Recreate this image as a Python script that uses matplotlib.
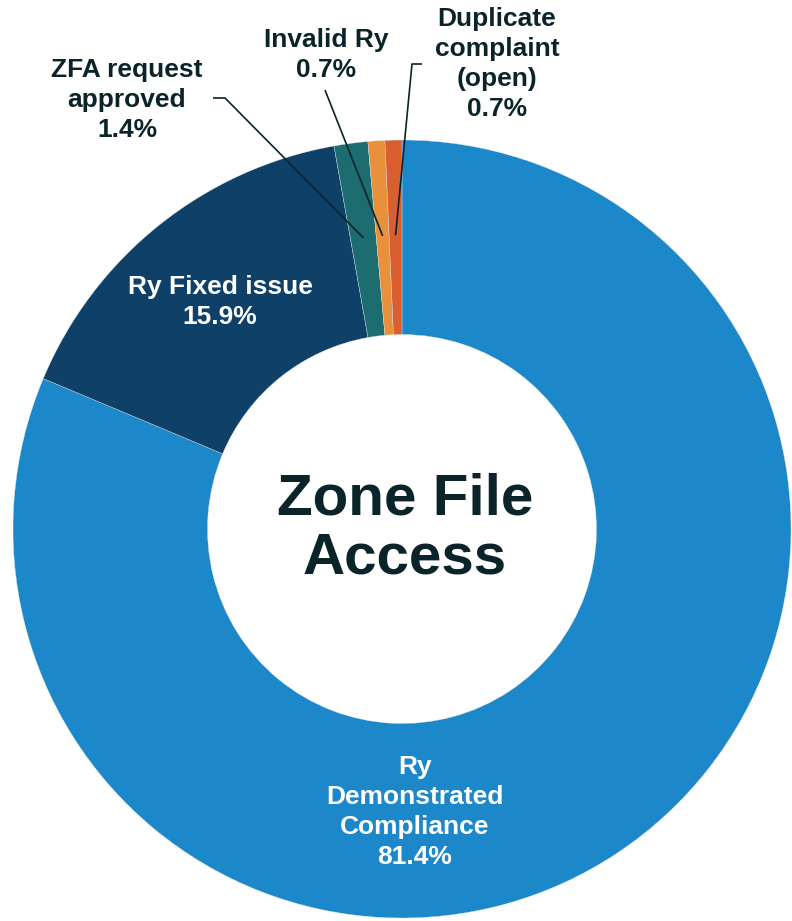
import numpy as np
import matplotlib.pyplot as plt

plt.rcParams['font.family'] = ['Liberation Sans', 'DejaVu Sans']

categories = ['Ry\nDemonstrated\nCompliance', 'Ry Fixed issue', 'ZFA request\napproved',
              'Invalid Ry', 'Duplicate\ncomplaint\n(open)']
values = [81.4, 15.9, 1.4, 0.7, 0.7]
colors = ['#1C87C9', '#0F4068', '#1D6C70', '#E8913A', '#D95F30']
dark = '#0B2429'

fig = plt.figure(figsize=(7.92, 9.21), dpi=100)
ax = fig.add_axes([0, 0, 1, 1])

wedges, _ = ax.pie(values, colors=colors, startangle=90, counterclock=False,
                   radius=1, wedgeprops=dict(width=0.5, edgecolor='#dde8ee', linewidth=0.25))

ax.set_xlim(-402 / 389, 390 / 389)
ax.set_ylim(-392 / 389, 529 / 389)
ax.set_aspect('equal')
ax.axis('off')


def px(x, y):
    return (x - 402) / 389, (529 - y) / 389


fs = 19
ls = 1.32
# labels inside
for i, (x, y) in [(0, (415, 812)), (1, (220, 302))]:
    ax.text(*px(x, y), '%s\n%.1f%%' % (categories[i], values[i]), ha='center', va='center',
            color='white', fontsize=fs, fontweight='bold', linespacing=ls)

# outside labels with leader lines
outside = {2: ((127, 100), [(213, 98), (225, 98)]),
           3: ((326, 55), [(325, 90)]),
           4: ((497, 64), [(422, 64), (412, 64)])}
for i, (tpos, pts) in outside.items():
    ax.text(*px(*tpos), '%s\n%.1f%%' % (categories[i], values[i]), ha='center', va='center',
            color=dark, fontsize=fs, fontweight='bold', linespacing=ls)
    w = wedges[i]
    ang = np.deg2rad((w.theta1 + w.theta2) / 2)
    end = (0.755 * np.cos(ang), 0.755 * np.sin(ang))
    xs = [px(*p)[0] for p in pts] + [end[0]]
    ys = [px(*p)[1] for p in pts] + [end[1]]
    ax.plot(xs, ys, color=dark, linewidth=1.2, solid_capstyle='butt')

ax.text(*px(405, 529), 'Zone File\nAccess', ha='center', va='center', color=dark,
        fontsize=42, fontweight='bold', linespacing=1.13)

fig.savefig('out.png', dpi=100)
